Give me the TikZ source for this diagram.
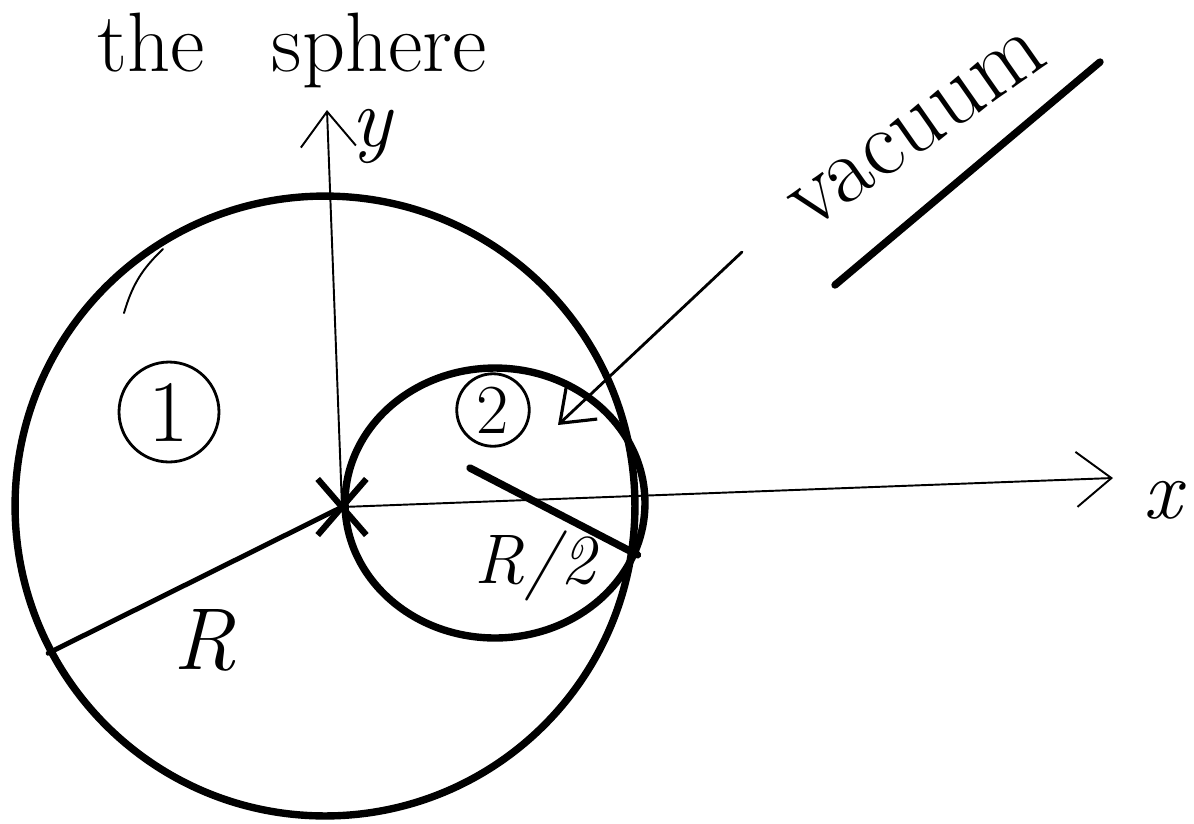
\documentclass[tikz,border=0pt]{standalone}
\usepackage{fontspec}
\usetikzlibrary{arrows.meta,shapes.geometric,shapes.misc}

\begin{document}
\begin{tikzpicture}[x=0.02cm,y=-0.02cm,
  pen/.style={line width=4.2pt,line cap=round},
  midpen/.style={line width=2.8pt,line cap=round},
  thinpen/.style={line width=1.1pt,line cap=round},
  barb/.style={-{Straight Barb[length=7mm,width=11mm,line width=1.1pt]}},
  hand/.style={font=\fontsize{48}{56}\selectfont},
  tag/.style={draw,circle,line width=1.6pt,inner sep=0pt}]
\useasboundingbox (0,0) rectangle (1194,823);

% the two spheres
\node[draw,circle,pen,minimum size=12.4cm] (outer) at (325,506) {};
\node[draw,ellipse,pen,minimum width=6cm,minimum height=5.4cm] (hole) at (495,503) {};
\draw[thinpen] (163,249) to[bend right=15] (124,313);

% axes
\coordinate (O) at (342,507);
\coordinate (ytip) at (327,110);
\coordinate (xtip) at (1113,478);
\draw[thinpen,barb] (O) -- (ytip);
\draw[thinpen,barb] (O) -- (xtip);
\node[hand] (ylab) at (372,136) {\itshape y};
\node[hand] (xlab) at (1162,500) {\itshape x};
\node[draw,cross out,line width=3.5pt,minimum width=0.85cm,minimum height=1cm] (mark) at (O) {};

% radii
\draw[midpen] (O) -- (outer.208);
\node[font=\fontsize{50}{56}\selectfont\itshape] (rlab) at (205,640) {R};
\coordinate (rs) at (470,468);
\draw[pen] (rs) -- (hole.-20);
\node[font=\fontsize{40}{46}\selectfont\itshape] (rhalf) at (535,566) {R/2};

% regions
\node[tag,minimum width=1.8cm,minimum height=2cm,font=\fontsize{50}{56}\selectfont] (one) at (169,412) {1};
\node[tag,minimum size=1.45cm,font=\fontsize{40}{46}\selectfont] (two) at (493,410) {2};

% labels
\node[hand] (title) at (292,50) {the\hspace{0.8em}sphere};
\node[font=\fontsize{54}{60}\selectfont,rotate=35] (vac) at (918,130) {vacuum};
\coordinate (ul1) at (835,285);
\coordinate (ul2) at (1100,62);
\draw[pen] (ul1) -- (ul2);
\coordinate (vtail) at (742,252);
\coordinate (vhead) at (558,425);
\draw[line width=1.6pt,line cap=round,-{Straight Barb[length=6mm,width=9mm,line width=1.8pt]}] (vtail) -- (vhead);
\end{tikzpicture}
\end{document}
